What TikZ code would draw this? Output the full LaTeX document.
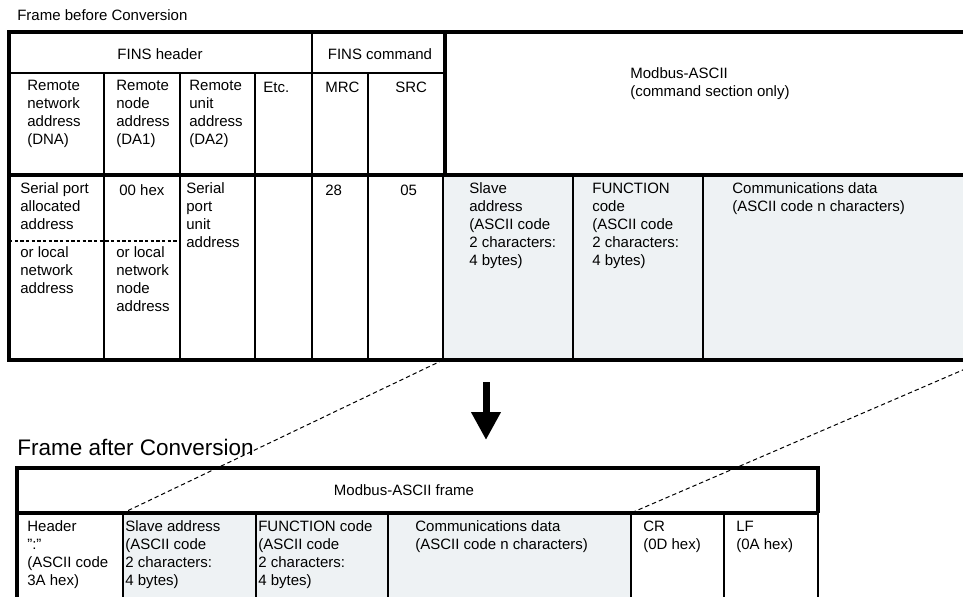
\documentclass[tikz,border=0pt]{standalone}
\usepackage{fontspec}
\setmainfont{Liberation Sans}
\usepackage{tikz}
\usepackage{xcolor}
\definecolor{cell_shade}{HTML}{EEF2F4}
\usetikzlibrary{arrows.meta,calc,positioning}
\tikzset{CELL/.style={font=\fontsize{9}{10.8}\selectfont, align=left, inner sep=0pt, anchor=north west, execute at begin node=\strut, yshift=7.56pt}}
\tikzset{HEAD/.style={font=\fontsize{9}{10.8}\selectfont, inner sep=0pt, anchor=base}}
\tikzset{TITLE/.style={inner sep=0pt, anchor=base west}}
\tikzset{THICK/.style={line width=2.4pt}}
\tikzset{THIN/.style={line width=0.9pt}}
\tikzset{SPLIT/.style={line width=0.9pt, dash pattern=on 2pt off 1.4pt}}
\tikzset{LINK/.style={line width=0.6pt, dash pattern=on 2.6pt off 1.8pt}}
\tikzset{CONV/.style={line width=4.2pt, -{Triangle[length=16.8pt,width=16.8pt]}}}

\begin{document}
\begin{tikzpicture}[x=0.6pt,y=-0.6pt]

\useasboundingbox (0,0) rectangle (963,596);
\clip (0,0) rectangle (963,596);

% shaded Modbus cells
\fill[cell_shade] (443,175) rectangle (1000,360);
\fill[cell_shade] (123,513) rectangle (631,610);

% frame before conversion
\node[TITLE, font=\fontsize{9}{10.8}\selectfont] (n_before) at (17,20) {Frame before Conversion};

\draw[THIN] (9,73) -- (445,73);
\draw[THIN] (104,73) -- (104,360);
\draw[THIN] (180,73) -- (180,360);
\draw[THIN] (255,73) -- (255,360);
\draw[THIN] (312,32) -- (312,360);
\draw[THIN] (368,73) -- (368,360);
\draw[THIN] (443,175) -- (443,360);
\draw[THIN] (573,175) -- (573,360);
\draw[THIN] (703,175) -- (703,360);
\draw[SPLIT] (9,241) -- (180,241);

\draw[THICK] (1000,32) -- (9,32) -- (9,360) -- (1000,360);
\draw[THICK] (9,175) -- (1000,175);
\draw[THICK] (445,32) -- (445,175);

\node[HEAD] (n_fins_hdr) at (160,59) {FINS header};
\node[HEAD] (n_fins_cmd) at (380,59) {FINS command};
\node[CELL] (n_modbus_cmd) at (630,80) {Modbus-ASCII\\(command section only)};

\node[CELL] (n_dna) at (27,92) {Remote\\network\\address\\(DNA)};
\node[CELL] (n_da1) at (116,92) {Remote\\node\\address\\(DA1)};
\node[CELL] (n_da2) at (189,92) {Remote\\unit\\address\\(DA2)};
\node[CELL] (n_etc) at (263,92) {Etc.};
\node[CELL] (n_mrc) at (325,92) {MRC};
\node[CELL] (n_src) at (395,92) {SRC};

\node[CELL] (n_port_alloc) at (20,195) {Serial port\\allocated\\address};
\node[CELL] (n_local_net) at (20,259) {or local\\network\\address};
\node[CELL] (n_hex00) at (119,195) {00 hex};
\node[CELL] (n_local_node) at (116,259) {or local\\network\\node\\address};
\node[CELL] (n_unit) at (186,195) {Serial\\port\\unit\\address};
\node[CELL] (n_mrc_val) at (325,195) {28};
\node[CELL] (n_src_val) at (400,195) {05};
\node[CELL] (n_slave) at (469,195) {Slave\\address\\(ASCII code\\2 characters:\\4 bytes)};
\node[CELL] (n_func) at (592,195) {FUNCTION\\code\\(ASCII code\\2 characters:\\4 bytes)};
\node[CELL] (n_data) at (732,195) {Communications data\\(ASCII code n characters)};

% conversion
\coordinate (c_conv_start) at (486,382);
\coordinate (c_conv_end) at (486,440);
\draw[CONV] (c_conv_start) -- (c_conv_end);

% frame after conversion
\node[TITLE, font=\fontsize{13.5}{16}\selectfont] (n_after) at (17,455) {Frame after Conversion};

\draw[THIN] (123,513) -- (123,610);
\draw[THIN] (256,513) -- (256,610);
\draw[THIN] (388,513) -- (388,610);
\draw[THIN] (631,513) -- (631,610);
\draw[THIN] (724,513) -- (724,610);
\draw[THIN] (818,513) -- (818,610);
\draw[THICK] (17,610) -- (17,468) -- (818,468) -- (818,513);
\draw[THICK] (17,513) -- (818,513);

\node[HEAD] (n_frame) at (404,495) {Modbus-ASCII frame};

\node[CELL] (n_hdr) at (27,533) {Header\\":"\\(ASCII code\\3A hex)};
\node[CELL] (n_slave_b) at (125,533) {Slave address\\(ASCII code\\2 characters:\\4 bytes)};
\node[CELL] (n_func_b) at (258,533) {FUNCTION code\\(ASCII code\\2 characters:\\4 bytes)};
\node[CELL] (n_data_b) at (415,533) {Communications data\\(ASCII code n characters)};
\node[CELL] (n_cr) at (643,533) {CR\\(0D hex)};
\node[CELL] (n_lf) at (736,533) {LF\\(0A hex)};

% mapping of the command section
\coordinate (c_slave_top) at (443,360);
\coordinate (c_slave_bot) at (123,513);
\coordinate (c_end_top) at (986,360);
\coordinate (c_cr_bot) at (631,513);
\draw[LINK] (c_slave_top) -- (c_slave_bot);
\draw[LINK] (c_end_top) -- (c_cr_bot);

\end{tikzpicture}
\end{document}
